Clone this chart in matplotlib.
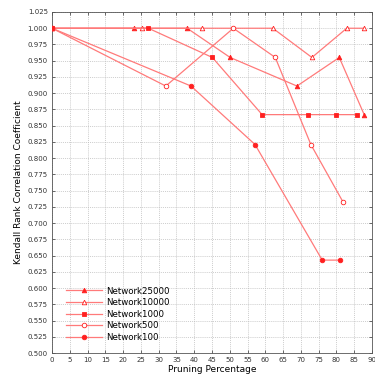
import matplotlib
matplotlib.use("Agg")
import matplotlib.pyplot as plt
from matplotlib.ticker import MultipleLocator

x25000 = [0, 23.0, 38.0, 50.1, 68.9, 80.8, 87.8]
y25000 = [1.0, 1.0, 1.0, 0.955, 0.911, 0.955, 0.867]
x10000 = [0, 25.2, 42.2, 62.1, 73.1, 82.9, 87.8]
y10000 = [1.0, 1.0, 1.0, 1.0, 0.955, 1.0, 1.0]
x1000 = [0, 27.1, 45.1, 59.1, 72.0, 79.9, 85.9]
y1000 = [1.0, 1.0, 0.955, 0.867, 0.867, 0.867, 0.867]
x500 = [0, 32.0, 51.0, 62.8, 72.8, 81.9]
y500 = [1.0, 0.911, 1.0, 0.955, 0.821, 0.732]
x100 = [0, 39.1, 57.1, 76.0, 80.9]
y100 = [1.0, 0.911, 0.821, 0.643, 0.643]

series = [
    ("Network25000", x25000, y25000, "^", True),
    ("Network10000", x10000, y10000, "^", False),
    ("Network1000", x1000, y1000, "s", True),
    ("Network500", x500, y500, "o", False),
    ("Network100", x100, y100, "o", True),
]

fig = plt.figure(figsize=(3.75, 3.77), dpi=100)
ax = fig.add_axes([52/375, 1-353/377, 320/375, 341/377])

line_col = "#ff7a7a"
mk_col = "#ff2020"
for name, xs, ys, m, filled in series:
    ax.plot(xs, ys, color=line_col, lw=0.9, marker=m, markersize=3.3,
            markerfacecolor=mk_col if filled else "white",
            markeredgecolor=mk_col, markeredgewidth=0.6, label=name, zorder=3)

ax.set_xlim(0, 90)
ax.set_ylim(0.5, 1.025)
ax.xaxis.set_major_locator(MultipleLocator(5))
ax.yaxis.set_major_locator(MultipleLocator(0.025))
ax.yaxis.set_major_formatter(matplotlib.ticker.FormatStrFormatter("%.3f"))
ax.tick_params(direction="in", labelsize=5, length=2, width=0.5, pad=3,
               colors="#333333", top=True, right=True)
ax.grid(True, color="#bbbbbb", linestyle=(0, (1.5, 1.5)), linewidth=0.5)
for s in ax.spines.values():
    s.set_linewidth(0.6)
    s.set_color("#555555")
ax.set_xlabel("Pruning Percentage", fontsize=6.5, labelpad=1)
ax.set_ylabel("Kendall Rank Correlation Coefficient", fontsize=6.5, labelpad=3)
ax.legend(loc="lower left", bbox_to_anchor=(0.02, 0.01), frameon=False,
          fontsize=6.2, handlelength=4.2, labelspacing=0.3, handletextpad=0.4)
fig.savefig("out.png", dpi=100)
